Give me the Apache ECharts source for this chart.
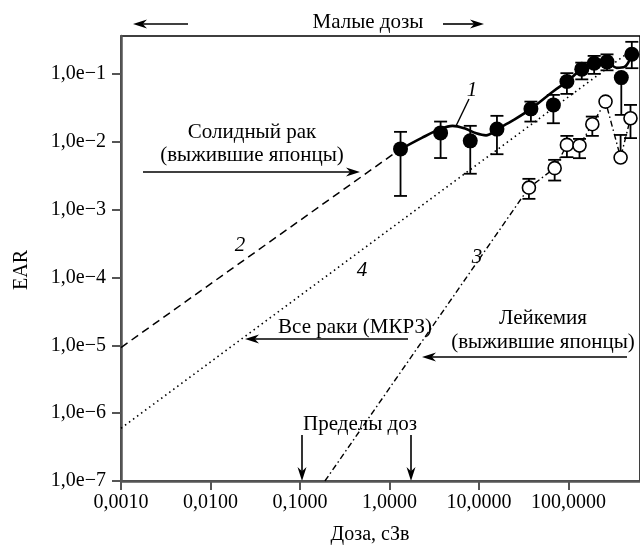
<!DOCTYPE html>
<html>
<head>
<meta charset="utf-8">
<script src="https://cdn.jsdelivr.net/npm/echarts@6/dist/echarts.min.js"></script>
<style>
  html, body { margin: 0; padding: 0; background: #fff; }
  #chart { width: 640px; height: 547px; }
</style>
</head>
<body>
<div id="chart"></div>
<script>
// solid cancer, Japanese survivors (filled dots)
const solidDose = [1.33, 3.73, 8.0, 15.9, 38.1, 67.9, 96.2, 141, 194, 270, 390, 511];
const solidEar = [0.0079, 0.0136, 0.0104, 0.0155, 0.0308, 0.0352, 0.0778, 0.1186, 0.145, 0.152, 0.0891, 0.197];
const solidLow = [0.0016, 0.0058, 0.0034, 0.0066, 0.0200, 0.0189, 0.0512, 0.0838, 0.101, 0.114, 0.0251, 0.1225];
const solidHigh = [0.0141, 0.0200, 0.0173, 0.0243, 0.0394, 0.0495, 0.1035, 0.148, 0.186, 0.196, 0.0891, 0.30];

// leukemia, Japanese survivors (open circles)
const leukDose = [36.2, 70.2, 96.2, 133, 185, 260, 383, 494];
const leukEar = [0.00212, 0.00411, 0.00906, 0.00885, 0.0183, 0.0394, 0.00589, 0.0224];
const leukLow = [0.00145, 0.0027, 0.00597, 0.00577, 0.0123, 0.0394, 0.00589, 0.0114];
const leukHigh = [0.00286, 0.00545, 0.0123, 0.0111, 0.0237, 0.0394, 0.0127, 0.0352];

// curve 1 - fit through the solid cancer data
const fitDose = [1.33, 2.30, 3.73, 5.07, 6.88, 9.34, 12.0, 15.9, 24.5, 38.1, 67.9, 96.2, 141, 194, 270, 346, 424, 511];
const fitEar = [0.00783, 0.0115, 0.0156, 0.0173, 0.0159, 0.0134, 0.0125, 0.0154, 0.0212, 0.0308, 0.0561, 0.0778, 0.1186, 0.145, 0.149, 0.124, 0.128, 0.197];

// line 2 - solid cancer extrapolation (dashed)
const solidTrendDose = [0.001, 1.33];
const solidTrendEar = [9.3e-6, 0.0079];

// line 4 - all cancers, ICRP (dotted)
const icrpDose = [0.001, 550];
const icrpEar = [6.0e-7, 0.244];

// line 3 - leukemia extrapolation (dash-dot), starts on the axis
const leukTrendDose = [0.19];
const leukTrendEar = [1e-7];

const xTicks = [0.001, 0.01, 0.1, 1, 10, 100];
const yTicks = [1e-7, 1e-6, 1e-5, 1e-4, 1e-3, 1e-2, 1e-1];

const FONT = 'Liberation Serif';
const zip = (xs, ys) => xs.map((x, i) => [x, ys[i]]);

function errorBars(dose, low, high) {
  return {
    type: 'custom',
    data: dose.map((d, i) => [d, low[i], high[i]]),
    encode: { x: 0, y: [1, 2] },
    z: 3,
    silent: true,
    renderItem: (params, api) => {
      const lo = api.coord([api.value(0), api.value(1)]);
      const hi = api.coord([api.value(0), api.value(2)]);
      const style = { stroke: '#000', lineWidth: 1.8 };
      const w = 6.5;
      const children = [
        { type: 'line', shape: { x1: lo[0], y1: lo[1], x2: hi[0], y2: hi[1] }, style },
      ];
      if (Math.abs(lo[1] - hi[1]) > 1) {
        children.push(
          { type: 'line', shape: { x1: lo[0] - w, y1: lo[1], x2: lo[0] + w, y2: lo[1] }, style },
          { type: 'line', shape: { x1: hi[0] - w, y1: hi[1], x2: hi[0] + w, y2: hi[1] }, style },
        );
      }
      return { type: 'group', children };
    },
  };
}

function arrow(x1, y1, x2, y2) {
  const ang = Math.atan2(y2 - y1, x2 - x1);
  const c = Math.cos(ang);
  const s = Math.sin(ang);
  const len = 14;
  const half = 4.5;
  const bx = x2 - len * c;
  const by = y2 - len * s;
  const nx = x2 - len * 0.7 * c;
  const ny = y2 - len * 0.7 * s;
  return [
    { type: 'line', silent: true, shape: { x1, y1, x2: nx, y2: ny }, style: { stroke: '#000', lineWidth: 1.6 } },
    {
      type: 'polygon',
      silent: true,
      shape: { points: [[x2, y2], [bx - s * half, by + c * half], [nx, ny], [bx + s * half, by - c * half]] },
      style: { fill: '#000' },
    },
  ];
}

function text(str, x, y, opts = {}) {
  return {
    type: 'text',
    silent: true,
    x,
    y,
    rotation: opts.rotation || 0,
    style: {
      text: str,
      fill: '#000',
      font: `${opts.italic ? 'italic ' : ''}${opts.size || 21}px "${FONT}"`,
      align: 'center',
      verticalAlign: 'middle',
    },
  };
}

const chart = echarts.init(document.getElementById('chart'), null, { renderer: 'canvas' });

const axisColor = '#555';

const option = {
  animation: false,
  backgroundColor: '#fff',
  grid: {
    left: 121,
    top: 36,
    width: 525,
    height: 445,
    show: true,
    borderColor: '#000',
    borderWidth: 1.5,
    backgroundColor: 'transparent',
  },
  xAxis: {
    type: 'log',
    min: 0.001,
    max: Math.pow(10, 2.8),
    axisLine: { show: true, onZero: false, lineStyle: { color: axisColor, width: 2.5 } },
    axisTick: { show: true, length: 9, customValues: xTicks, lineStyle: { color: axisColor, width: 2 } },
    minorTick: { show: false },
    splitLine: { show: false },
    axisLabel: {
      customValues: xTicks,
      margin: 12,
      color: '#000',
      fontFamily: FONT,
      fontSize: 20,
      formatter: (v) => v.toFixed(4).replace('.', ','),
    },
  },
  yAxis: {
    type: 'log',
    min: 1e-7,
    max: Math.pow(10, -0.437),
    axisLine: { show: true, onZero: false, lineStyle: { color: axisColor, width: 2.5 } },
    axisTick: { show: true, length: 9, customValues: yTicks, lineStyle: { color: axisColor, width: 2 } },
    minorTick: { show: false },
    splitLine: { show: false },
    axisLabel: {
      customValues: yTicks,
      margin: 15,
      color: '#000',
      fontFamily: FONT,
      fontSize: 20,
      formatter: (v) => '1,0e\u2212' + Math.round(-Math.log10(v)),
    },
  },
  series: [
    {
      type: 'line',
      data: zip(solidTrendDose, solidTrendEar),
      symbol: 'none',
      silent: true,
      z: 1,
      lineStyle: { color: '#000', width: 1.5, type: [8, 5] },
    },
    {
      type: 'line',
      data: zip(icrpDose, icrpEar),
      symbol: 'none',
      silent: true,
      z: 1,
      lineStyle: { color: '#000', width: 1.6, type: [1.5, 3.5] },
    },
    {
      type: 'line',
      data: zip(leukTrendDose.concat(leukDose), leukTrendEar.concat(leukEar)),
      symbol: 'none',
      silent: true,
      z: 1,
      lineStyle: { color: '#000', width: 1.4, type: [6, 3, 1.5, 3] },
    },
    {
      type: 'line',
      data: zip(fitDose, fitEar),
      symbol: 'none',
      smooth: 0.35,
      silent: true,
      z: 2,
      lineStyle: { color: '#000', width: 2.6 },
    },
    errorBars(solidDose, solidLow, solidHigh),
    errorBars(leukDose, leukLow, leukHigh),
    {
      type: 'scatter',
      data: zip(solidDose, solidEar),
      symbol: 'circle',
      symbolSize: 15,
      silent: true,
      z: 5,
      itemStyle: { color: '#000', opacity: 1 },
    },
    {
      type: 'scatter',
      data: zip(leukDose, leukEar),
      symbol: 'circle',
      symbolSize: 13,
      silent: true,
      z: 5,
      itemStyle: { color: '#fff', borderColor: '#000', borderWidth: 1.6, opacity: 1 },
    },
  ],
  graphic: [
    text('Малые дозы', 368, 22),
    ...arrow(188, 24, 133, 24),
    ...arrow(443, 24, 484, 24),
    text('Солидный рак', 252, 132),
    text('(выжившие японцы)', 252, 155),
    ...arrow(143, 172, 360, 172),
    { type: 'line', silent: true, shape: { x1: 456, y1: 126, x2: 469, y2: 99 }, style: { stroke: '#000', lineWidth: 1.4 } },
    text('1', 472, 90, { italic: true }),
    text('2', 240, 245, { italic: true }),
    text('4', 362, 270, { italic: true }),
    text('3', 477, 257, { italic: true }),
    text('Все раки (МКРЗ)', 355, 327),
    ...arrow(408, 339, 245, 339),
    text('Лейкемия', 543, 318),
    text('(выжившие японцы)', 543, 342),
    ...arrow(627, 357, 422, 357),
    text('Пределы доз', 360, 424),
    ...arrow(302, 435, 302, 481),
    ...arrow(411, 435, 411, 481),
    text('EAR', 22, 270, { rotation: Math.PI / 2, size: 20 }),
    text('Доза, сЗв', 370, 535, { size: 20 }),
  ],
};

chart.setOption(option);
</script>
</body>
</html>
